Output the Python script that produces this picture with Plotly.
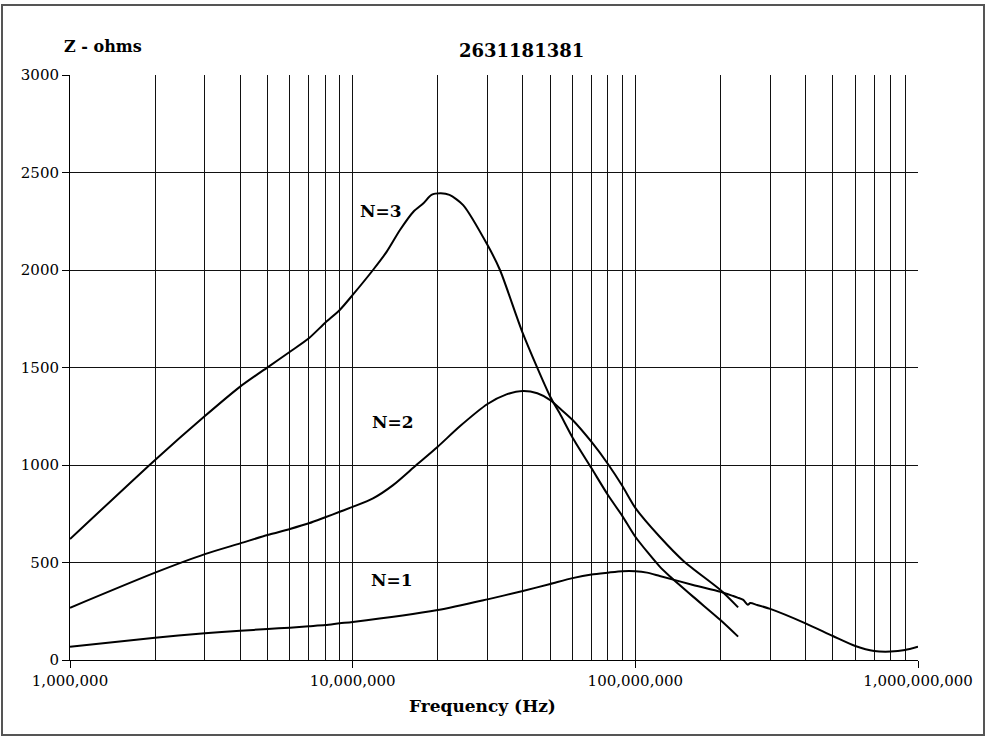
import plotly.graph_objects as go

# ---- data ----
n1_freq = [1e6, 2e6, 3e6, 4e6, 5e6, 6e6, 7e6, 8e6, 9e6, 1e7, 2e7, 3e7, 4e7, 5e7, 6e7, 7e7,
           8e7, 9e7, 1e8, 1.1e8, 1.22e8, 1.6e8, 2e8, 2.22e8, 2.3e8, 2.41e8, 2.5e8, 2.55e8,
           2.7e8, 3e8, 4e8, 5e8, 6e8, 7e8, 8e8, 9e8, 1e9]
n1_z = [68, 114, 137, 150, 159, 166, 173, 179, 188, 195, 256, 311, 354, 390, 420, 439,
        448, 455, 455, 448, 431, 385, 350, 328, 320, 308, 283, 292,
        282, 262, 188, 123, 72, 46, 43, 51, 68]

n2_freq = [1e6, 2e6, 3e6, 4e6, 5e6, 6e6, 7e6, 8e6, 9e6, 1e7, 1.18e7, 1.39e7, 1.68e7, 2e7,
           2.4e7, 3e7, 3.5e7, 4e7, 4.5e7, 5e7, 5.4e7, 6e7, 7e7, 8e7, 9e7, 1e8, 1.22e8,
           1.49e8, 2e8, 2.31e8]
n2_z = [268, 448, 543, 598, 641, 672, 701, 732, 760, 785, 829, 897, 1000, 1094,
        1200, 1313, 1362, 1380, 1368, 1333, 1291, 1231, 1118, 1005, 892, 780, 632,
        504, 359, 270]

n3_freq = [1e6, 2e6, 3e6, 4e6, 5e6, 6e6, 7e6, 8e6, 9e6, 1e7, 1.18e7, 1.32e7, 1.47e7,
           1.64e7, 1.78e7, 1.9e7, 2.05e7, 2.2e7, 2.46e7, 3e7, 3.32e7, 4e7, 5e7, 5.4e7,
           6e7, 7e7, 8e7, 9e7, 1e8, 1.22e8, 1.33e8, 1.6e8, 2e8, 2.31e8]
n3_z = [620, 1026, 1251, 1402, 1501, 1581, 1650, 1730, 1795, 1872, 2000, 2094, 2205,
        2299, 2342, 2385, 2393, 2385, 2333, 2128, 2000, 1675, 1350, 1265,
        1140, 983, 846, 738, 632, 479, 427, 325, 205, 120]

x_tick_vals = [1e6, 1e7, 1e8, 1e9]
x_tick_text = ["1,000,000", "10,000,000", "100,000,000", "1,000,000,000"]
y_tick_vals = [0, 500, 1000, 1500, 2000, 2500, 3000]

title_text = "2631181381"
x_title = "Frequency (Hz)"
y_title = "Z - ohms"
series_labels = ["N=1", "N=2", "N=3"]

# ---- layout geometry ----
W, H = 987, 740
L, R, T, B = 70, 69, 75, 80
pw, ph = W - L - R, H - T - B

def px(x):
    return (x - L) / pw

def py(y):
    return (H - B - y) / ph

FONT = "DejaVu Serif"

fig = go.Figure()
for fx, fz, name in [(n1_freq, n1_z, series_labels[0]),
                     (n2_freq, n2_z, series_labels[1]),
                     (n3_freq, n3_z, series_labels[2])]:
    fig.add_trace(go.Scatter(x=fx, y=fz, mode="lines", name=name,
                             line=dict(color="black", width=2, shape="spline", smoothing=0.7),
                             showlegend=False))

minor_vals = [m * 10 ** d for d in range(6, 9) for m in range(2, 10)]

fig.update_xaxes(type="log", range=[6, 9], tickvals=x_tick_vals, ticktext=x_tick_text,
                 showgrid=True, gridcolor="#111", gridwidth=1,
                 minor=dict(tickvals=minor_vals, showgrid=True, gridcolor="#111",
                            gridwidth=1, ticks=""),
                 showline=True, linecolor="black", linewidth=1,
                 ticks="outside", ticklen=7, tickcolor="black",
                 tickfont=dict(family=FONT, size=15, color="black"),
                 zeroline=False, mirror=False)
fig.update_yaxes(range=[0, 3000], tickvals=y_tick_vals,
                 showgrid=True, gridcolor="#111", gridwidth=1,
                 showline=True, linecolor="black", linewidth=1,
                 ticks="outside", ticklen=7, tickcolor="black",
                 tickfont=dict(family=FONT, size=15, color="black"),
                 zeroline=False)

annotations = [
    dict(text="<b>%s</b>" % title_text, x=px(521), y=py(38), xref="paper", yref="paper",
         showarrow=False, font=dict(family=FONT, size=18, color="black")),
    dict(text="<b>%s</b>" % y_title, x=px(62), y=py(35), xref="paper", yref="paper",
         showarrow=False, font=dict(family=FONT, size=16, color="black")),
    dict(text="<b>%s</b>" % x_title, x=px(482), y=py(718), xref="paper", yref="paper",
         showarrow=False, font=dict(family=FONT, size=17, color="black")),
    dict(text="<b>%s</b>" % series_labels[2], x=px(381), y=py(199), xref="paper", yref="paper",
         showarrow=False, font=dict(family=FONT, size=17, color="black")),
    dict(text="<b>%s</b>" % series_labels[1], x=px(393), y=py(422), xref="paper", yref="paper",
         showarrow=False, font=dict(family=FONT, size=17, color="black")),
    dict(text="<b>%s</b>" % series_labels[0], x=px(392), y=py(592), xref="paper", yref="paper",
         showarrow=False, font=dict(family=FONT, size=17, color="black")),
]

shapes = [dict(type="rect", xref="paper", yref="paper",
               x0=px(2), x1=px(984), y0=py(735), y1=py(5),
               line=dict(color="#555", width=2), fillcolor="rgba(0,0,0,0)", layer="below")]

fig.update_layout(width=W, height=H, margin=dict(l=L, r=R, t=T, b=B),
                  paper_bgcolor="white", plot_bgcolor="white",
                  annotations=annotations, shapes=shapes)

fig.write_html("out.html", config={"displayModeBar": False},
               post_script="document.body.style.margin='0';document.body.style.padding='0';")
